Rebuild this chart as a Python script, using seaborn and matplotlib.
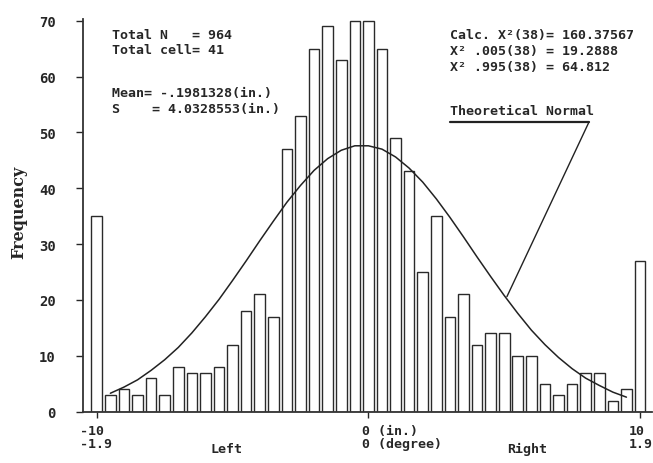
import matplotlib
matplotlib.use("Agg")
import matplotlib.pyplot as plt
import seaborn as sns
import pandas as pd

# ---- data ----
bin_centers = [-10, -9.5, -9, -8.5, -8, -7.5, -7, -6.5, -6, -5.5, -5, -4.5, -4, -3.5,
               -3, -2.5, -2, -1.5, -1, -0.5, 0, 0.5, 1, 1.5, 2, 2.5, 3, 3.5, 4, 4.5,
               5, 5.5, 6, 6.5, 7, 7.5, 8, 8.5, 9, 9.5, 10]
frequency = [35, 3, 4, 3, 6, 3, 8, 7, 7, 8, 12, 18, 21, 17,
             47, 53, 65, 69, 63, 70, 70, 65, 49, 43, 25, 35, 17, 21, 12, 14,
             14, 10, 10, 5, 3, 5, 7, 7, 2, 4, 27]

curve_x = [-9.5, -9, -8.5, -8, -7.5, -7, -6.5, -6, -5.5, -5, -4.5, -4, -3.5, -3,
           -2.5, -2, -1.5, -1, -0.5, 0, 0.5, 1, 1.5, 2, 2.5, 3, 3.5, 4, 4.5, 5,
           5.5, 6, 6.5, 7, 7.5, 8, 8.5, 9, 9.5]
curve_y = [3.3, 4.4, 5.7, 7.4, 9.3, 11.5, 14.1, 17.0, 20.1, 23.5, 27.0, 30.6, 34.1, 37.5,
           40.5, 43.2, 45.3, 46.8, 47.6, 47.6, 47.0, 45.6, 43.6, 41.1, 38.1, 34.8, 31.3, 27.7, 24.2, 20.8,
           17.6, 14.6, 12.0, 9.7, 7.7, 6.0, 4.7, 3.5, 2.6]

y_ticks = [0, 10, 20, 30, 40, 50, 60, 70]
x_tick_pos = [-10, 0, 10]
x_tick_labels = ["-10\n-1.9", "0 (in.)\n0 (degree)", "10\n1.9"]

stats_count = "Total N   = 964\nTotal cell= 41"
stats_moments = "Mean= -.1981328(in.)\nS    = 4.0328553(in.)"
stats_chi = "Calc. X\u00b2(38)= 160.37567\nX\u00b2 .005(38) = 19.2888\nX\u00b2 .995(38) = 64.812"
curve_label = "Theoretical Normal"
pointer_target = (5.1, 20.6)

# ---- figure ----
sns.set_style("white")
plt.rcParams["font.family"] = ["DejaVu Sans Mono"]

fig = plt.figure(figsize=(6.53, 4.64), dpi=100)
ax = fig.add_axes([0.1266, 0.1106, 0.998 - 0.1266, 0.9569 - 0.1106])

df = pd.DataFrame({"x": bin_centers, "freq": frequency})
sns.barplot(data=df, x="x", y="freq", native_scale=True, width=0.78,
            color="white", edgecolor="#2a2a2a", linewidth=1.0,
            errorbar=None, ax=ax)
sns.lineplot(x=curve_x, y=curve_y, color="#222222", linewidth=1.1, ax=ax)

ax.set_xlim(-10.52, 10.43)
ax.set_ylim(0, 70.3)

sns.despine(ax=ax)
for s in ("left", "bottom"):
    ax.spines[s].set_color("#333333")
    ax.spines[s].set_linewidth(1.3)

ax.set_yticks(y_ticks)
ax.set_yticklabels([str(v) for v in y_ticks], fontsize=10, fontweight="bold")
ax.tick_params(axis="y", direction="out", length=5, width=1, pad=14.5, left=True)
ax.set_xticks(x_tick_pos)
ax.set_xticklabels([])
ax.tick_params(axis="x", direction="out", length=4, width=1, bottom=True)
ax.set_xlabel("")
ax.set_ylabel("Frequency", family=["DejaVu Serif"], fontweight="bold", fontsize=11.5)
ax.yaxis.set_label_coords(-0.098, 0.51)

# x tick labels (two lines) placed at the tick positions
offsets = [-12, -4.5, -8]
for xv, lab, dx in zip(x_tick_pos, x_tick_labels, offsets):
    ax.annotate(lab, xy=(xv, 0), xycoords=("data", "axes fraction"),
                xytext=(dx, -9), textcoords="offset points", ha="left", va="top",
                fontsize=9.5, fontweight="bold", linespacing=0.95)
ax.annotate("Left", xy=(-5.8, 0), xycoords=("data", "axes fraction"),
            xytext=(0, -22), textcoords="offset points", ha="left", va="top",
            fontsize=9.5, fontweight="bold")
ax.annotate("Right", xy=(5.1, 0), xycoords=("data", "axes fraction"),
            xytext=(0, -22), textcoords="offset points", ha="left", va="top",
            fontsize=9.5, fontweight="bold")

# statistics text
fig.text(112 / 653, 1 - 29 / 464, stats_count, ha="left", va="top",
         fontsize=9.5, fontweight="bold", linespacing=1.25)
fig.text(112 / 653, 1 - 87 / 464, stats_moments, ha="left", va="top",
         fontsize=9.5, fontweight="bold", linespacing=1.25)
fig.text(450 / 653, 1 - 29 / 464, stats_chi, ha="left", va="top",
         fontsize=9.5, fontweight="bold", linespacing=1.3)

# Theoretical normal label, underline and pointer
fig.text(450 / 653, 1 - 105 / 464, curve_label, ha="left", va="top",
         fontsize=9.5, fontweight="bold")
ax.annotate("", xy=(450 / 653, 1 - 123 / 464), xycoords="figure fraction",
            xytext=(589 / 653, 1 - 123 / 464), textcoords="figure fraction",
            arrowprops=dict(arrowstyle="-", color="#222222", lw=1.6,
                            shrinkA=0, shrinkB=0))
ax.annotate("", xy=pointer_target, xycoords="data",
            xytext=(589 / 653, 1 - 123 / 464), textcoords="figure fraction",
            arrowprops=dict(arrowstyle="-", color="#222222", lw=1.0,
                            shrinkA=0, shrinkB=0))

fig.savefig("out.png", dpi=100)
